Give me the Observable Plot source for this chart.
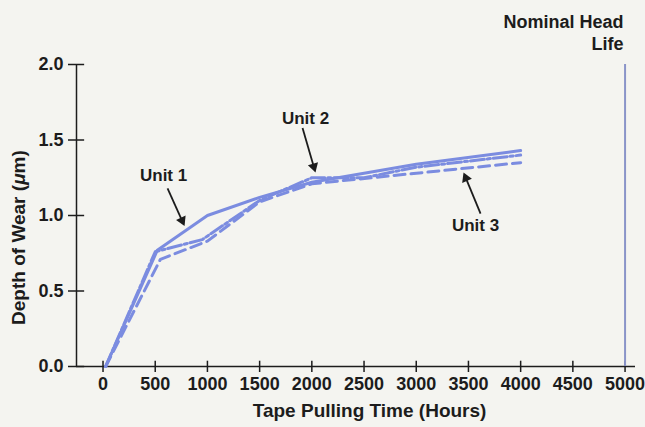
<!DOCTYPE html>
<html>
<head>
<meta charset="utf-8">
<script src="https://cdn.jsdelivr.net/npm/d3@7"></script>
<script src="https://cdn.jsdelivr.net/npm/@observablehq/plot@0.6"></script>
<style>
  html, body { margin: 0; padding: 0; background: #f4f4f0; }
  #chart svg { display: block; }
</style>
</head>
<body>
<div id="chart"></div>
<script>
// ---- data ----
const xTicks = [0, 500, 1000, 1500, 2000, 2500, 3000, 3500, 4000, 4500, 5000];
const yTicks = [0, 0.5, 1.0, 1.5, 2.0];

const unit1Hours = [25, 520, 1000, 1500, 2000, 3000, 4000];
const unit1Wear  = [0, 0.77, 1.00, 1.12, 1.22, 1.34, 1.43];

const unit2Hours = [25, 500, 950, 1500, 2000, 2500, 3000, 4000];
const unit2Wear  = [0, 0.76, 0.84, 1.10, 1.25, 1.25, 1.32, 1.40];

const unit3Hours = [25, 550, 1000, 1500, 2000, 4000];
const unit3Wear  = [0, 0.71, 0.83, 1.09, 1.21, 1.35];

const unitNames      = ["Unit 1", "Unit 2", "Unit 3"];
const labelHours     = [580, 1940, 3568];
const labelWear      = [1.265, 1.64, 0.935];
const arrowFromHours = [618, 1911, 3616];
const arrowFromWear  = [1.18, 1.58, 1.013];
const arrowToHours   = [781, 2035, 3453];
const arrowToWear    = [0.93, 1.285, 1.285];

const nominalLifeHours = 5000;
const nominalLabel = "Nominal Head\nLife";
const xTitle = "Tape Pulling Time (Hours)";
const yTitle = "Depth of Wear (μm)";

// ---- layout ----
const W = 645, H = 427;
const mL = 76, mR = 10, mT = 64, mB = 61;
const xMin = -254, xMax = 5100;
const ink = "#1c1c1c";
const blue = "#7b8ce0";

// ---- build tables ----
const rows = (xs, ys) => xs.map((x, i) => ({x, y: ys[i]}));
const u1 = rows(unit1Hours, unit1Wear);
const u2 = rows(unit2Hours, unit2Wear);
const u3 = rows(unit3Hours, unit3Wear);
const labels = unitNames.map((t, i) => ({t, x: labelHours[i], y: labelWear[i]}));

// standalone scales (same as the plot's) to orient filled arrowheads
const sx = Plot.scale({x: {domain: [xMin, xMax], range: [mL, W - mR]}});
const sy = Plot.scale({y: {domain: [0, 2], range: [H - mB, mT]}});
const headR = 3.9;                 // dot radius for the triangle head
const tipDist = 1.555 * headR;     // centroid-to-tip distance of d3.symbolTriangle
const arrows = unitNames.map((t, i) => {
  const px1 = sx.apply(arrowFromHours[i]), py1 = sy.apply(arrowFromWear[i]);
  const px2 = sx.apply(arrowToHours[i]),   py2 = sy.apply(arrowToWear[i]);
  const dx = px2 - px1, dy = py2 - py1, len = Math.hypot(dx, dy);
  const cx = px2 - dx / len * tipDist, cy = py2 - dy / len * tipDist;
  return {
    x1: arrowFromHours[i], y1: arrowFromWear[i],
    hx: sx.invert(cx), hy: sy.invert(cy),
    rot: Math.atan2(dx, -dy) * 180 / Math.PI
  };
});

const chart = Plot.plot({
  width: W,
  height: H,
  marginLeft: mL,
  marginRight: mR,
  marginTop: mT,
  marginBottom: mB,
  x: {domain: [xMin, xMax]},
  y: {domain: [0, 2]},
  style: {
    background: "#f4f4f0",
    fontFamily: "'Liberation Sans', Arial, Helvetica, sans-serif",
    fontSize: "18px",
    fontWeight: "bold",
    color: ink
  },
  marks: [
    // axis lines
    Plot.ruleY([0], {x1: xMin, x2: xMax, stroke: ink, strokeWidth: 1.5}),
    Plot.ruleX([xMin], {y1: 0, y2: 2, stroke: ink, strokeWidth: 1.5}),
    // ticks + labels (outward part)
    Plot.axisX(xTicks, {tickSize: 6, tickPadding: 5, tickFormat: "d", label: null, strokeWidth: 1.5, fontSize: 18}),
    Plot.axisY(yTicks, {tickSize: 8, tickPadding: 5, tickFormat: ".1f", label: null, strokeWidth: 1.5, fontSize: 18}),
    // inward part of ticks
    Plot.ruleX(xTicks, {x: d => d, y1: 0, y2: 0.035, stroke: ink, strokeWidth: 1.5}),
    Plot.ruleY(yTicks, {y: d => d, x1: xMin, x2: xMin + 78, stroke: ink, strokeWidth: 1.5}),
    // nominal head life
    Plot.ruleX([nominalLifeHours], {y1: 0, y2: 2, stroke: "#8a94c8", strokeWidth: 2}),
    // data lines
    Plot.line(u3, {x: "x", y: "y", stroke: blue, strokeWidth: 3, strokeDasharray: "11,6"}),
    Plot.line(u2, {x: "x", y: "y", stroke: blue, strokeWidth: 3, strokeDasharray: "14,3,3,3"}),
    Plot.line(u1, {x: "x", y: "y", stroke: blue, strokeWidth: 3}),
    // annotations: shaft + filled head
    Plot.link(arrows, {x1: "x1", y1: "y1", x2: "hx", y2: "hy", stroke: ink, strokeWidth: 1.8}),
    Plot.dot(arrows, {x: "hx", y: "hy", symbol: "triangle", r: headR, rotate: "rot", fill: ink, stroke: "none"}),
    Plot.text(labels, {x: "x", y: "y", text: "t", fill: ink, fontSize: 17}),
    Plot.text([nominalLabel], {x: 4986, y: 2.215, text: d => d, textAnchor: "end", lineHeight: 1.2, fill: ink, fontSize: 18}),
    Plot.text([xTitle], {x: 2553, frameAnchor: "bottom", dy: 50, text: d => d, fill: ink, fontSize: 19}),
    Plot.text([yTitle], {x: -809, y: 0.854, rotate: -90, text: d => d, fill: ink, fontSize: 19})
  ]
});

document.getElementById("chart").appendChild(chart);

// italicise the mu in the y title
chart.querySelectorAll("text").forEach(el => {
  if (el.textContent === yTitle) {
    const parts = yTitle.split("μ");
    el.textContent = "";
    const ns = "http://www.w3.org/2000/svg";
    const a = document.createElementNS(ns, "tspan"); a.textContent = parts[0];
    const m = document.createElementNS(ns, "tspan"); m.textContent = "μ"; m.setAttribute("font-style", "italic");
    const b = document.createElementNS(ns, "tspan"); b.textContent = parts[1];
    el.append(a, m, b);
  }
});
</script>
</body>
</html>
